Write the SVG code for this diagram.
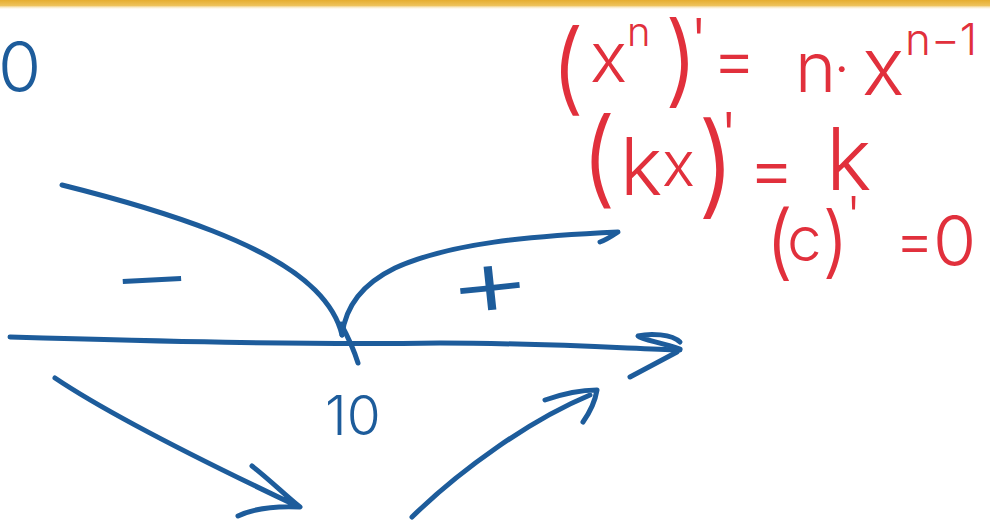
<svg xmlns="http://www.w3.org/2000/svg" width="990" height="520" viewBox="0 0 990 520">
  <defs>
    <linearGradient id="bar" x1="0" y1="0" x2="0" y2="1">
      <stop offset="0" stop-color="#e6ad2e"/>
      <stop offset="0.55" stop-color="#eec25a"/>
      <stop offset="1" stop-color="#ffffff" stop-opacity="0"/>
    </linearGradient>
    <style>
      .b { fill: none; stroke: #1d5c9b; stroke-width: 5; stroke-linecap: round; stroke-linejoin: round; }
      .bt { fill: #1d5c9b; font-family: Inter, "Liberation Sans", Arial, sans-serif; font-weight: 300; }
      .r { fill: #e1303c; font-family: Inter, "Liberation Sans", Arial, sans-serif; font-weight: 300; }
    </style>
  </defs>
  <rect x="0" y="0" width="990" height="520" fill="#ffffff"/>
  <rect x="0" y="0" width="990" height="10" fill="url(#bar)"/>

  <g id="corner-label">
    <text class="bt" x="-2" y="92" font-size="70">0</text>
  </g>

  <g id="connectors">
    <path id="left-branch" class="b" d="M62,185 C170,212 270,245 315,290 C330,305 338,318 342,335"/>
    <path id="right-branch" class="b" d="M342,335 C345,310 360,285 395,268 C450,243 530,236 618,232 C612,236 606,240 600,242"/>
    <path id="axis" class="b" d="M10,337 C150,341 300,345 440,343 C540,343 620,348 680,350"/>
    <path id="axis-head" class="b" d="M680,349 C660,342 642,340 638,336 C650,333 672,334 680,342 M677,352 C660,361 645,369 630,377"/>
    <path id="tick" class="b" d="M341,324 C348,337 354,350 358,363"/>
    <path id="down-arrow" class="b" d="M55,378 C110,415 200,460 295,505 M252,466 C270,480 285,495 300,507 C280,506 255,508 238,516"/>
    <path id="up-arrow" class="b" d="M412,517 C460,470 530,420 590,395 M545,400 C565,393 582,390 597,390 C595,402 590,412 583,422"/>
  </g>

  <g id="minus-sign">
    <text class="bt" font-size="80" transform="translate(110,305) rotate(-3) scale(1.65,1)">−</text>
  </g>
  <g id="plus-sign">
    <text class="bt" font-size="88" transform="translate(450,320) rotate(-6) scale(1.5,1.1)">+</text>
  </g>
  <g id="point-label">
    <text class="bt" x="325" y="435" font-size="55">10</text>
  </g>

  <g id="formula-power">
    <text class="r">
      <tspan x="550" y="102" font-size="100">(</tspan>
      <tspan x="590" y="82" font-size="70">x</tspan>
      <tspan x="627" y="46" font-size="40">n</tspan>
      <tspan x="664" y="94" font-size="100">)</tspan>
      <tspan x="690" y="62" font-size="60">'</tspan>
      <tspan x="712" y="83" font-size="68">=</tspan>
      <tspan x="795" y="92" font-size="70">n</tspan>
      <tspan x="834" y="88" font-size="55">·</tspan>
      <tspan x="862" y="95" font-size="80">x</tspan>
      <tspan x="905" y="55" font-size="44">n−1</tspan>
    </text>
  </g>
  <g id="formula-linear">
    <text class="r">
      <tspan x="580" y="194" font-size="105">(</tspan>
      <tspan x="620" y="195" font-size="80">k</tspan>
      <tspan x="662" y="186" font-size="62">x</tspan>
      <tspan x="697" y="204" font-size="112">)</tspan>
      <tspan x="720" y="156" font-size="60">'</tspan>
      <tspan x="748" y="194" font-size="72">=</tspan>
      <tspan x="826" y="190" font-size="86">k</tspan>
    </text>
  </g>
  <g id="formula-constant">
    <text class="r">
      <tspan x="765" y="270" font-size="82">(</tspan>
      <tspan x="787" y="261" font-size="62">c</tspan>
      <tspan x="822" y="268" font-size="78">)</tspan>
      <tspan x="846" y="234" font-size="52">'</tspan>
      <tspan x="895" y="261" font-size="60">=</tspan>
      <tspan x="933" y="266" font-size="70">0</tspan>
    </text>
  </g>
</svg>
